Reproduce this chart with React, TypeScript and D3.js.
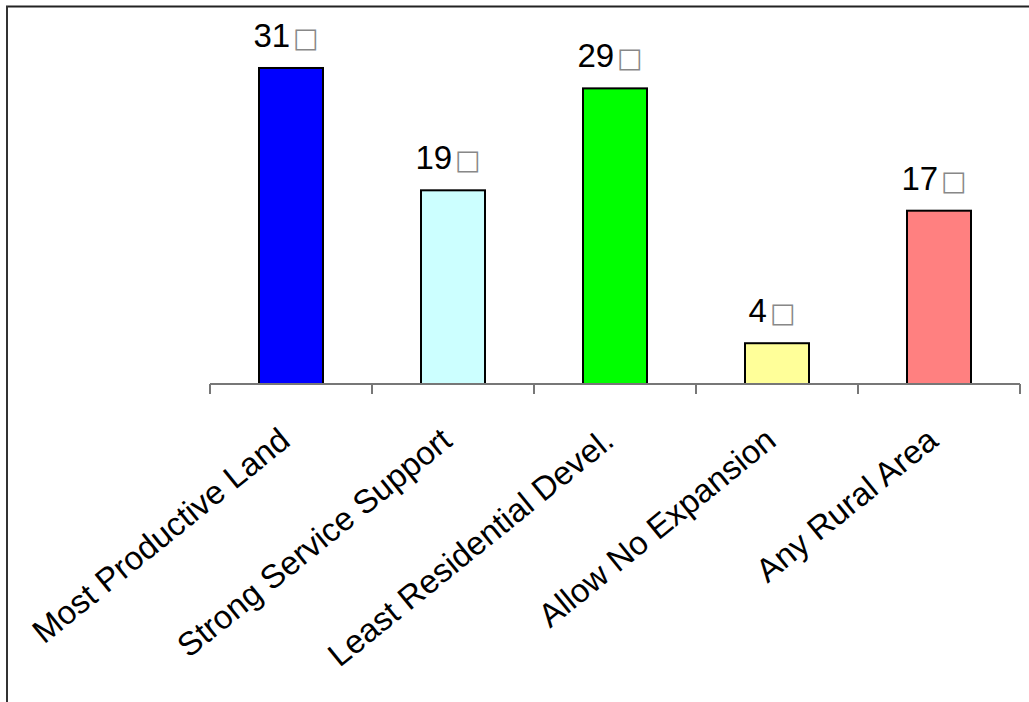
import React from "react";
import * as d3 from "d3";

const categories = [
  "Most Productive Land",
  "Strong Service Support",
  "Least Residential Devel.",
  "Allow No Expansion",
  "Any Rural Area",
];
const values = [31, 19, 29, 4, 17];
const colors = ["#0000FF", "#CCFFFF", "#00FF00", "#FFFF99", "#FF8080"];

const W = 1029;
const H = 702;
const baseY = 384;

export default function App() {
  const band = d3.scaleBand<string>().domain(categories).range([210, 1020]);
  const y = d3.scaleLinear().domain([0, 35]).range([baseY, baseY - 35 * 10.194]);
  const font = "Liberation Sans, Arial, Helvetica, sans-serif";
  const ticks = categories.map((c) => band(c)!).concat([1020]);

  return (
    <svg
      width={W}
      height={H}
      style={{ position: "fixed", left: 0, top: 0, background: "#fff" }}
    >
      <rect x={0} y={0} width={W} height={H} fill="#fff" />
      {/* frame */}
      <line x1={6} y1={6.5} x2={W} y2={6.5} stroke="#222" strokeWidth={2} />
      <line x1={7} y1={6} x2={7} y2={H} stroke="#333" strokeWidth={2} />

      {/* bars */}
      {categories.map((c, i) => {
        const cx = band(c)! + band.bandwidth() / 2;
        const bw = 64;
        return (
          <g key={c}>
            <rect
              x={cx - bw / 2}
              y={y(values[i])}
              width={bw}
              height={baseY - y(values[i])}
              fill={colors[i]}
              stroke="#000"
              strokeWidth={2}
            />
            <text
              x={cx - 5}
              y={y(values[i]) - 21}
              textAnchor="middle"
              fontFamily={font}
              fontSize={33}
              fill="#000"
            >
              {values[i]}
              <tspan dx={3} fontFamily="DejaVu Sans" fontSize={27} fill="#888">
                □
              </tspan>
            </text>
          </g>
        );
      })}

      {/* axis */}
      <line x1={210} y1={baseY} x2={1020} y2={baseY} stroke="#777" strokeWidth={2} />
      {ticks.map((t, i) => (
        <line key={i} x1={t} y1={baseY} x2={t} y2={baseY + 10} stroke="#777" strokeWidth={2} />
      ))}

      {/* category labels */}
      {categories.map((c) => {
        const cx = band(c)! + band.bandwidth() / 2;
        return (
          <text
            key={c}
            transform={`translate(${cx + 1},${baseY + 60}) rotate(-39)`}
            textAnchor="end"
            fontFamily={font}
            fontSize={33}
            fill="#000"
          >
            {c}
          </text>
        );
      })}
    </svg>
  );
}
